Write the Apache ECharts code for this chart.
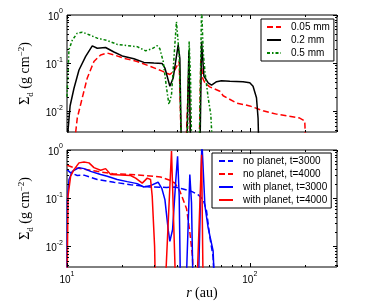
<!DOCTYPE html>
<html>
<head>
<meta charset="utf-8">
<script src="https://cdn.jsdelivr.net/npm/echarts@6/dist/echarts.min.js"></script>
<style>
html,body{margin:0;padding:0;background:#fff;}
#chart{width:374px;height:308px;}
</style>
</head>
<body>
<div id="chart"></div>
<script>
// ---------- data (r in au, Sigma_d in g cm^-2) ----------
const xMajorTicks = [10, 100];
const xMinorTicks = [20, 30, 40, 50, 60, 70, 80, 90, 200, 300];
const yMajorTicks = [0.01, 0.1, 1];
const yMinorTicks = [0.004, 0.005, 0.006, 0.007, 0.008, 0.009,
  0.02, 0.03, 0.04, 0.05, 0.06, 0.07, 0.08, 0.09,
  0.2, 0.3, 0.4, 0.5, 0.6, 0.7, 0.8, 0.9];

const topNames = ['0.05 mm', '0.2 mm', '0.5 mm'];
const bottomNames = ['no planet, t=3000', 'no planet, t=4000', 'with planet, t=3000', 'with planet, t=4000'];

const dust005 = [[11.0,0.001],[11.16,0.0037],[11.38,0.0072],[12.12,0.019],[12.91,0.049],[14.04,0.108],[15.28,0.148],[16.6,0.162],[18.06,0.148],[20.49,0.126],[24.2,0.108],[28.66,0.085],[33.19,0.068],[36.54,0.058],[38.9,0.072],[41.1,0.108],[42.33,0.001],[44.5,0.001],[46.43,0.079],[47.6,0.001],[52.8,0.001],[54.0,0.126],[55.2,0.049],[56.8,0.039],[60.4,0.032],[68.6,0.026],[71.5,0.021],[84.6,0.0148],[100,0.0129],[118.2,0.0102],[139.9,0.0087],[187.6,0.0072],[199.8,0.0063],[204,0.001]];

const dust02 = [[10.0,0.001],[10.13,0.004],[10.4,0.013],[10.92,0.03],[11.63,0.072],[12.65,0.138],[13.75,0.229],[14.64,0.204],[16.26,0.211],[18.06,0.17],[20.06,0.141],[23.23,0.123],[26.35,0.1035],[29.88,0.1],[33.19,0.098],[34.33,0.079],[36.54,0.033],[38.1,0.049],[40.57,0.24],[41.43,0.126],[42.33,0.001],[45.1,0.001],[46.43,0.182],[47.6,0.001],[53.3,0.001],[54.5,0.28],[56.1,0.054],[59.2,0.039],[61.8,0.035],[65.8,0.041],[70,0.043],[77.8,0.042],[91.9,0.041],[100,0.039],[104.2,0.033],[108.8,0.019],[111,0.0072],[112.4,0.001]];

const dust05 = [[10.0,0.02],[10.25,0.19],[10.69,0.30],[11.38,0.42],[12.12,0.44],[13.19,0.39],[14.64,0.33],[16.6,0.295],[18.83,0.245],[21.36,0.23],[24.2,0.22],[26.92,0.18],[29.25,0.2],[31.14,0.23],[32.2,0.2],[33.6,0.108],[35.06,0.03],[36.1,0.0138],[37.3,0.022],[38.9,0.24],[39.7,0.72],[41.1,0.15],[41.8,0.01],[42.33,0.001],[45.4,0.001],[46.6,0.28],[47.4,0.049],[48.2,0.001],[52.8,0.001],[54.5,1.5],[55.6,0.174],[56.8,0.068],[59.2,0.019],[61.2,0.0085],[63.0,0.001]];

const noPlanet3000 = [[10.0,0.39],[10.47,0.335],[11.38,0.295],[12.39,0.3],[14.64,0.243],[18.06,0.214],[22.29,0.19],[28.42,0.17],[35.06,0.167],[38.9,0.17],[43.2,0.155],[47.99,0.138],[52.2,0.117],[55.6,0.093],[57.97,0.055],[60.4,0.0158],[63.0,0.006],[64.4,0.001]];

const noPlanet4000 = [[10.0,0.48],[10.92,0.43],[12.4,0.4],[14.6,0.36],[17.9,0.32],[22.29,0.31],[26.35,0.295],[32.5,0.275],[36.54,0.235],[38.9,0.206],[41.43,0.14],[43.2,0.093],[45.1,0.06],[46.98,0.02],[48.6,0.006],[49.4,0.001]];

const planet3000 = [[10.0,0.001],[10.05,0.09],[10.25,0.24],[10.69,0.36],[11.63,0.43],[12.39,0.41],[13.47,0.36],[15.28,0.31],[16.6,0.285],[18.83,0.243],[21.36,0.22],[24.2,0.2],[26.3,0.17],[28.42,0.18],[31.5,0.214],[33.0,0.16],[34.33,0.093],[35.78,0.022],[36.54,0.0126],[37.8,0.022],[39.4,0.243],[40.27,0.74],[41.1,0.11],[41.8,0.001],[44.7,0.001],[46.98,0.31],[47.99,0.08],[48.98,0.001],[52.2,0.001],[54.7,1.5],[56.8,0.071],[59.2,0.024],[63.0,0.008],[64.4,0.001]];

const planet4000 = [[10.0,0.001],[10.13,0.11],[10.47,0.285],[10.92,0.39],[11.63,0.54],[12.39,0.56],[13.19,0.54],[14.04,0.43],[15.28,0.38],[16.26,0.41],[17.34,0.31],[22.29,0.295],[23.74,0.26],[25.8,0.205],[27.47,0.26],[28.66,0.243],[29.25,0.11],[30.15,0.0098],[30.5,0.001],[34.33,0.001],[37.3,0.95],[39.4,0.001],[51.2,0.001],[54.5,0.8],[55.6,0.001]];

// ---------- chart ----------
const SANS = 'Liberation Sans';
const SERIF = 'Liberation Serif';
const X_MIN = 10, X_MAX = 300, Y_MIN = 0.0037, Y_MAX = 1;

function powLabel(v) {
  const e = Math.log10(v);
  const r = Math.round(e);
  if (Math.abs(e - r) > 1e-6) return '';
  return '{b|10}{s|' + (r < 0 ? '-' + (-r) : String(r)) + '}';
}
const powRich = {
  b: {fontSize: 10, fontFamily: SANS, color: '#000', lineHeight: 14, verticalAlign: 'bottom'},
  s: {fontSize: 7, fontFamily: SANS, color: '#000', lineHeight: 8, verticalAlign: 'top'}
};
const yNameRich = {
  S: {fontSize: 14, fontFamily: SERIF, color: '#000', lineHeight: 18},
  d: {fontSize: 9, fontFamily: SERIF, color: '#000', lineHeight: 9, verticalAlign: 'bottom'},
  t: {fontSize: 14, fontFamily: SERIF, color: '#000', lineHeight: 18},
  u: {fontSize: 9, fontFamily: SERIF, color: '#000', lineHeight: 9, verticalAlign: 'top'}
};
const yName = '{S|Σ}{d|d}{t| (g cm}{u|−2}{t|)}';

function tickData() {
  const d = [];
  xMajorTicks.forEach(v => d.push([v, 0.1, 0, 4]));
  xMinorTicks.forEach(v => d.push([v, 0.1, 0, 2]));
  yMajorTicks.forEach(v => d.push([20, v, 1, 4]));
  yMinorTicks.forEach(v => d.push([20, v, 1, 2]));
  return d;
}
function renderTick(params, api) {
  const cs = params.coordSys;
  const kind = api.value(2), len = api.value(3);
  const p = api.coord([api.value(0), api.value(1)]);
  const st = {stroke: '#000', lineWidth: 1};
  if (kind === 0) {
    const x = Math.round(p[0]) + 0.5;
    if (x < cs.x - 1 || x > cs.x + cs.width + 1) return null;
    return {type: 'group', children: [
      {type: 'line', shape: {x1: x, y1: cs.y + cs.height, x2: x, y2: cs.y + cs.height - len}, style: st},
      {type: 'line', shape: {x1: x, y1: cs.y, x2: x, y2: cs.y + len}, style: st}
    ]};
  } else {
    const y = Math.round(p[1]) + 0.5;
    if (y < cs.y - 1 || y > cs.y + cs.height + 1) return null;
    return {type: 'group', children: [
      {type: 'line', shape: {x1: cs.x, y1: y, x2: cs.x + len, y2: y}, style: st},
      {type: 'line', shape: {x1: cs.x + cs.width, y1: y, x2: cs.x + cs.width - len, y2: y}, style: st}
    ]};
  }
}

function lineSeries(name, data, color, type, idx) {
  return {
    name: name, type: 'line', data: data, xAxisIndex: idx, yAxisIndex: idx,
    symbol: 'none', showSymbol: false, clip: true, animation: false,
    lineStyle: {color: color, width: 1.5, type: type},
    itemStyle: {color: color}
  };
}

const gridCommon = {show: true, borderColor: '#000', borderWidth: 1, backgroundColor: 'transparent'};
function xAxisCfg(idx, showLabels) {
  return {
    type: 'log', logBase: 10, gridIndex: idx, min: X_MIN, max: X_MAX,
    axisLine: {show: false}, axisTick: {show: false}, splitLine: {show: false},
    axisLabel: {show: showLabels, margin: 4, formatter: powLabel, rich: powRich},
    name: showLabels ? '{i|r} {t|(au)}' : '',
    nameLocation: 'middle', nameGap: 12,
    nameTextStyle: {rich: {
      i: {fontSize: 14, fontFamily: SERIF, fontStyle: 'italic', color: '#000'},
      t: {fontSize: 14, fontFamily: SERIF, color: '#000'}
    }}
  };
}
function yAxisCfg(idx) {
  return {
    type: 'log', logBase: 10, gridIndex: idx, min: Y_MIN, max: Y_MAX,
    axisLine: {show: false}, axisTick: {show: false}, splitLine: {show: false},
    axisLabel: {margin: 4, formatter: powLabel, rich: powRich, showMinLabel: false},
    name: yName, nameLocation: 'middle', nameRotate: 90, nameGap: 17,
    nameTextStyle: {rich: yNameRich}
  };
}
function legendCfg(names, left, top, pad) {
  return {
    data: names, orient: 'vertical', left: left, top: top,
    backgroundColor: '#fff', borderColor: '#000', borderWidth: 1, borderRadius: 0,
    padding: pad, itemWidth: 14, itemHeight: 10, itemGap: 3, selectedMode: false,
    itemStyle: {opacity: 0, borderWidth: 0},
    textStyle: {fontFamily: SANS, fontSize: 10, color: '#000', padding: [0, 0, 0, 5]}
  };
}

const chart = echarts.init(document.getElementById('chart'), null, {renderer: 'canvas'});
chart.setOption({
  animation: false,
  backgroundColor: '#fff',
  grid: [
    Object.assign({left: 67, top: 15, width: 270, height: 117}, gridCommon),
    Object.assign({left: 67, top: 150, width: 270, height: 117}, gridCommon)
  ],
  xAxis: [xAxisCfg(0, false), xAxisCfg(1, true)],
  yAxis: [yAxisCfg(0), yAxisCfg(1)],
  legend: [
    legendCfg(topNames, 261, 19, [3, 4, 3, 5]),
    legendCfg(bottomNames, 212, 153, [3, 4, 3, 6])
  ],
  series: [
    lineSeries('0.05 mm', dust005, '#ff0000', [6, 3], 0),
    lineSeries('0.2 mm', dust02, '#000000', 'solid', 0),
    lineSeries('0.5 mm', dust05, '#008000', [3, 2, 1.5, 2], 0),
    lineSeries('no planet, t=3000', noPlanet3000, '#0000ff', [6, 3], 1),
    lineSeries('no planet, t=4000', noPlanet4000, '#ff0000', [6, 3], 1),
    lineSeries('with planet, t=3000', planet3000, '#0000ff', 'solid', 1),
    lineSeries('with planet, t=4000', planet4000, '#ff0000', 'solid', 1),
    {type: 'custom', name: 'ticksTop', xAxisIndex: 0, yAxisIndex: 0, data: tickData(),
     renderItem: renderTick, silent: true, z: 5, animation: false, encode: {x: 0, y: 1}},
    {type: 'custom', name: 'ticksBottom', xAxisIndex: 1, yAxisIndex: 1, data: tickData(),
     renderItem: renderTick, silent: true, z: 5, animation: false, encode: {x: 0, y: 1}}
  ]
});
</script>
</body>
</html>
